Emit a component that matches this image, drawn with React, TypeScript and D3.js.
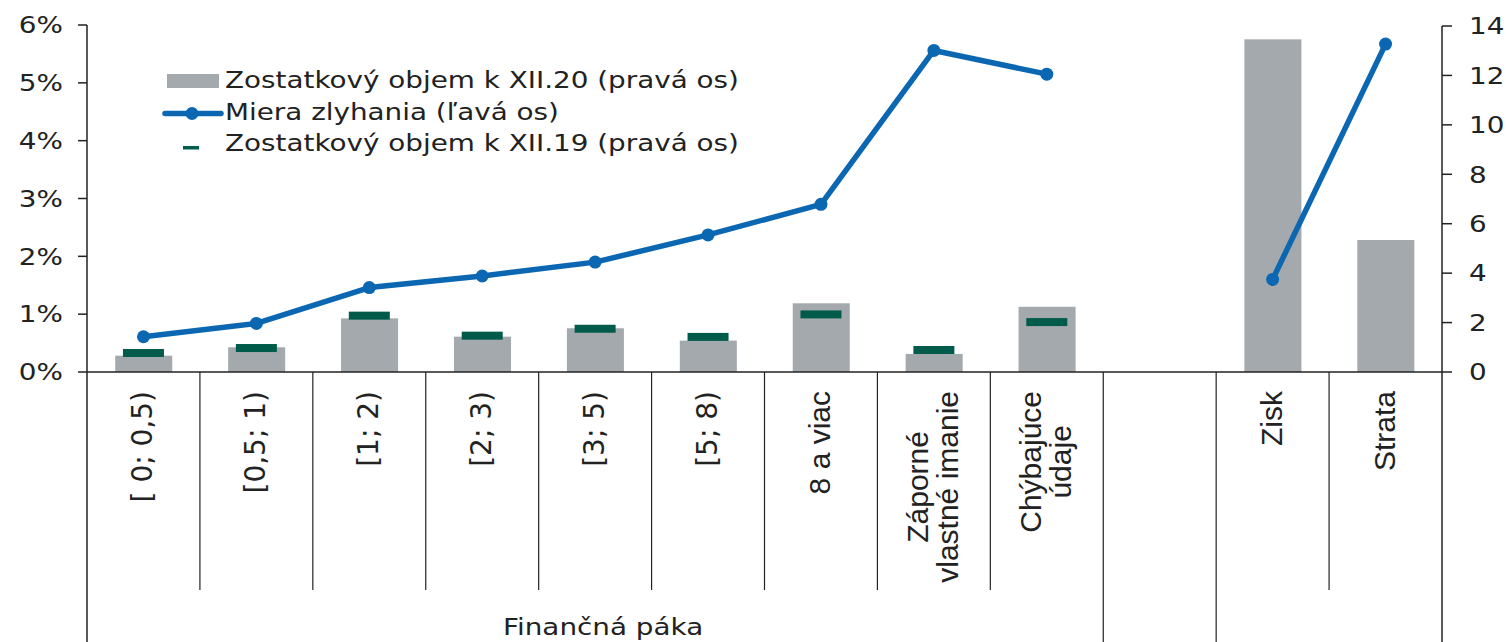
import React, { useEffect, useRef } from "react";
import * as d3 from "d3";

// ---- data ----
const categories: string[] = [
  "[ 0; 0,5)",
  "[0,5; 1)",
  "[1; 2)",
  "[2; 3)",
  "[3; 5)",
  "[5; 8)",
  "8 a viac",
  "Záporné\nvlastné imanie",
  "Chýbajúce\núdaje",
  "",
  "Zisk",
  "Strata",
];
// Zostatkový objem k XII.20 (pravá os)
const volume20: (number | null)[] = [0.66, 1.0, 2.17, 1.43, 1.77, 1.27, 2.78, 0.73, 2.64, null, 13.46, 5.34];
// Zostatkový objem k XII.19 (pravá os)
const volume19: (number | null)[] = [0.77, 0.97, 2.28, 1.47, 1.75, 1.42, 2.33, 0.89, 2.02, null, null, null];
// Miera zlyhania (ľavá os), in %
const defaultRate: (number | null)[] = [0.61, 0.84, 1.46, 1.66, 1.9, 2.37, 2.9, 5.56, 5.15, null, 1.6, 5.67];

const leftTicks: number[] = [0, 1, 2, 3, 4, 5, 6];
const rightTicks: number[] = [0, 2, 4, 6, 8, 10, 12, 14];

const groups = [
  { label: "Finančná páka", start: 0, end: 9 },
  { label: "", start: 9, end: 10 },
  { label: "", start: 10, end: 12 },
];

const legendLabels: string[] = [
  "Zostatkový objem k XII.20 (pravá os)",
  "Miera zlyhania (ľavá os)",
  "Zostatkový objem k XII.19 (pravá os)",
];

// ---- style ----
const W = 1506;
const H = 642;
const GREY = "#a3a9ad";
const GREEN = "#005b4b";
const BLUE = "#0b67b2";
const TXT = "#222";
const SANS = "'DejaVu Sans', Verdana, sans-serif";
const ARIAL = "'Liberation Sans', Arial, sans-serif";
const STRETCH = 1.21;

export default function App() {
  const ref = useRef<SVGSVGElement | null>(null);

  useEffect(() => {
    const svg = d3.select(ref.current);
    svg.selectAll("*").remove();

    const x0 = 87, x1 = 1442, yBase = 372;
    const x = d3.scaleBand<number>().domain(categories.map((_, i) => i)).range([x0, x1]).padding(0);
    const yL = d3.scaleLinear().domain([0, 6]).range([yBase, 25]);
    const yR = d3.scaleLinear().domain([0, 14]).range([yBase, 26]);
    const bw = x.bandwidth();

    // bars XII.20
    svg.append("g")
      .selectAll("rect")
      .data(volume20.map((v, i) => ({ v, i })).filter((d) => d.v != null))
      .join("rect")
      .attr("x", (d) => x(d.i)! + bw * 0.25)
      .attr("width", bw * 0.505)
      .attr("y", (d) => yR(d.v as number))
      .attr("height", (d) => yBase - yR(d.v as number))
      .attr("fill", GREY);

    // markers XII.19
    svg.append("g")
      .selectAll("rect")
      .data(volume19.map((v, i) => ({ v, i })).filter((d) => d.v != null))
      .join("rect")
      .attr("x", (d) => x(d.i)! + bw / 2 - 20.5)
      .attr("width", 41)
      .attr("y", (d) => yR(d.v as number) - 4)
      .attr("height", 8)
      .attr("fill", GREEN);

    // axes lines
    const axisG = svg.append("g").attr("stroke", "#222").attr("stroke-width", 1.5);
    axisG.append("line").attr("x1", x0).attr("x2", x1).attr("y1", yBase).attr("y2", yBase);
    axisG.append("line").attr("x1", x0).attr("x2", x0).attr("y1", yL(6)).attr("y2", H);
    axisG.append("line").attr("x1", x1).attr("x2", x1).attr("y1", yR(14)).attr("y2", H);
    // left ticks
    axisG.selectAll(".lt").data(leftTicks).join("line").attr("class", "lt")
      .attr("x1", x0 - 9).attr("x2", x0).attr("y1", (d) => yL(d)).attr("y2", (d) => yL(d));
    axisG.selectAll(".rt").data(rightTicks).join("line").attr("class", "rt")
      .attr("x1", x1).attr("x2", x1 + 10).attr("y1", (d) => yR(d)).attr("y2", (d) => yR(d));

    // category dividers
    const outer = new Set<number>();
    groups.forEach((g) => { outer.add(g.start); outer.add(g.end); });
    const divG = svg.append("g").attr("stroke", "#222").attr("stroke-width", 1.2);
    for (let i = 1; i < categories.length; i++) {
      const xx = x(i)!;
      divG.append("line").attr("x1", xx).attr("x2", xx).attr("y1", yBase).attr("y2", outer.has(i) ? H : 590);
    }

    // tick labels
    svg.append("g").selectAll("text").data(leftTicks).join("text")
      .attr("transform", (d) => `translate(63,${yL(d)}) scale(${STRETCH},1)`)
      .attr("text-anchor", "end")
      .attr("dy", "0.36em")
      .attr("font-family", SANS).attr("font-size", 23).attr("fill", TXT)
      .text((d) => `${d}%`);
    svg.append("g").selectAll("text").data(rightTicks).join("text")
      .attr("transform", (d) => `translate(1469,${yR(d)}) scale(${STRETCH},1)`)
      .attr("text-anchor", "start")
      .attr("dy", "0.36em")
      .attr("font-family", SANS).attr("font-size", 23).attr("fill", TXT)
      .text((d) => `${d}`);

    // line series (with gap)
    const line = d3.line<number | null>()
      .defined((d) => d != null)
      .x((_, i) => x(i)! + bw / 2)
      .y((d) => yL(d as number));
    svg.append("path").datum(defaultRate).attr("d", line as any)
      .attr("fill", "none").attr("stroke", BLUE).attr("stroke-width", 5.5).attr("stroke-linejoin", "round");
    svg.append("g").selectAll("circle")
      .data(defaultRate.map((v, i) => ({ v, i })).filter((d) => d.v != null))
      .join("circle")
      .attr("cx", (d) => x(d.i)! + bw / 2)
      .attr("cy", (d) => yL(d.v as number))
      .attr("r", 6.5)
      .attr("fill", BLUE);

    // category labels (rotated)
    const labG = svg.append("g");
    categories.forEach((c, i) => {
      if (!c) return;
      const lines = c.split("\n");
      const isBracket = c.startsWith("[");
      const fam = isBracket ? SANS : ARIAL;
      const fs = isBracket ? 28 : 30;
      const cx = x(i)! + bw / 2;
      const lh = 30;
      const t = labG.append("text")
        .attr("font-family", fam).attr("font-size", fs).attr("fill", TXT)
        .attr("text-anchor", "middle");
      lines.forEach((ln, k) => {
        t.append("tspan").attr("x", 0).attr("y", (k - (lines.length - 1) / 2) * lh)
          .attr("dominant-baseline", "central").text(ln);
      });
      let maxLen = 0;
      t.selectAll<SVGTSpanElement, unknown>("tspan").each(function () {
        maxLen = Math.max(maxLen, this.getComputedTextLength());
      });
      const top = 391;
      t.attr("transform", `translate(${cx - 1},${top + maxLen / 2}) rotate(-90)`);
    });

    // group labels
    groups.forEach((g) => {
      if (!g.label) return;
      const cx = (x(g.start)! + (g.end < categories.length ? x(g.end)! : x1)) / 2;
      svg.append("text")
        .attr("transform", `translate(${cx + 8},635) scale(${STRETCH},1)`)
        .attr("text-anchor", "middle")
        .attr("font-family", SANS).attr("font-size", 23).attr("fill", TXT)
        .text(g.label);
    });

    // legend
    const lg = svg.append("g");
    lg.append("rect").attr("x", 167).attr("y", 74).attr("width", 52).attr("height", 14).attr("fill", GREY);
    lg.append("line").attr("x1", 165).attr("x2", 221).attr("y1", 113.5).attr("y2", 113.5)
      .attr("stroke", BLUE).attr("stroke-width", 5.5).attr("stroke-linecap", "round");
    lg.append("circle").attr("cx", 192).attr("cy", 113.5).attr("r", 6.5).attr("fill", BLUE);
    lg.append("rect").attr("x", 183).attr("y", 146).attr("width", 16).attr("height", 3.5).attr("fill", GREEN);
    const baselines = [87.5, 119.5, 151];
    legendLabels.forEach((l, k) => {
      lg.append("text")
        .attr("transform", `translate(225,${baselines[k]}) scale(${STRETCH},1)`)
        .attr("font-family", SANS).attr("font-size", 23).attr("fill", TXT)
        .text(l);
    });
  }, []);

  return (
    <svg
      ref={ref}
      width={W}
      height={H}
      style={{ position: "absolute", left: 0, top: 0, background: "#fff" }}
    />
  );
}
